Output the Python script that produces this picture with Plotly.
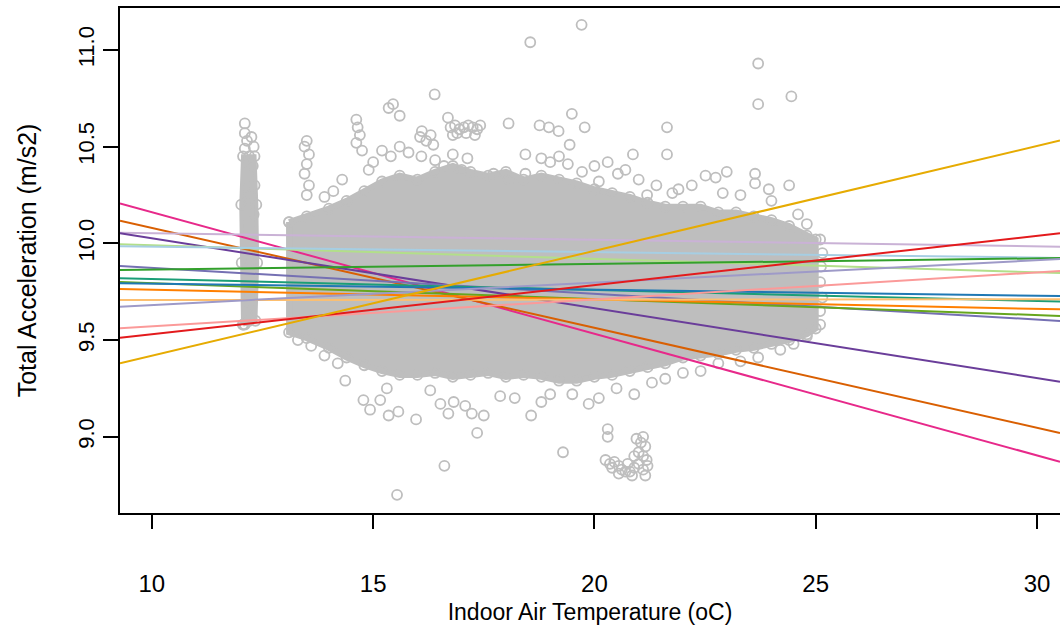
import plotly.graph_objects as go

# ---------------- data ----------------
# x range of the plotting region (regression lines span it)
x_limits = [9.28, 30.52]

# regression lines: value at left limit, value at right limit, colour
line_colors = ["#E7298A", "#D95F02", "#CAB2D6", "#6A3D9A", "#B2DF8A", "#A6CEE3",
               "#7570B3", "#33A02C", "#1B9E77", "#66A61E", "#1F78B4", "#FF7F00",
               "#FDBF6F", "#9E9AC8", "#FB9A99", "#E31A1C", "#E6AB02"]
line_y_left = [10.207, 10.117, 10.055, 10.052, 9.995, 9.985,
               9.883, 9.862, 9.820, 9.800, 9.794, 9.764,
               9.707, 9.673, 9.561, 9.512, 9.380]
line_y_right = [8.871, 9.020, 9.983, 9.285, 9.847, 9.925,
                9.599, 9.924, 9.699, 9.625, 9.728, 9.659,
                9.711, 9.919, 9.857, 10.052, 10.532]

# dense core of the scatter cloud (columns: temperature, upper and lower edge)
core_x = [13.1, 13.5, 14.0, 14.4, 14.8, 15.2, 15.6, 16.0, 16.4, 16.8, 17.2, 17.6,
          18.0, 18.4, 18.8, 19.2, 19.6, 20.0, 20.4, 20.8, 21.2, 21.6, 22.0, 22.4,
          22.8, 23.2, 23.6, 24.0, 24.4, 24.8, 25.0]
core_top = [10.11, 10.14, 10.18, 10.22, 10.27, 10.32, 10.35, 10.33, 10.37, 10.40, 10.37, 10.35,
            10.37, 10.33, 10.35, 10.33, 10.31, 10.28, 10.26, 10.24, 10.21, 10.19, 10.19, 10.19,
            10.16, 10.16, 10.14, 10.12, 10.09, 10.04, 10.02]
core_bot = [9.54, 9.51, 9.46, 9.41, 9.37, 9.34, 9.32, 9.32, 9.33, 9.31, 9.32, 9.33,
            9.31, 9.32, 9.31, 9.29, 9.29, 9.31, 9.32, 9.34, 9.36, 9.38, 9.41, 9.42,
            9.43, 9.45, 9.46, 9.48, 9.50, 9.53, 9.56]

# vertical strip of readings at ~12.2 degC
strip_x = [12.06, 12.34, 12.38, 12.36, 12.32, 12.06, 12.02, 12.03]
strip_y = [9.58, 9.60, 9.90, 10.20, 10.45, 10.45, 10.20, 9.90]

# individual readings outside the dense core
pts_x = [19.71, 18.55, 23.70, 23.70, 24.45, 16.39, 15.60, 15.45, 15.35, 16.69,
         14.62, 14.65, 14.70, 14.62, 14.75, 13.50, 13.45, 13.55, 13.50, 13.45, 13.55, 13.50,
         12.10, 12.10, 12.15, 12.10, 12.20,
         16.75, 16.85, 16.95, 17.05, 17.15, 17.25, 17.35, 17.42, 16.90, 17.10, 17.30, 16.80,
         16.06, 16.10, 16.20, 16.30, 16.36,
         18.06, 18.76, 18.97, 19.19, 19.49, 19.78, 21.64, 21.64, 20.87, 20.53, 19.44, 18.44,
         18.80, 19.00, 19.20, 19.40, 16.09, 16.40, 16.60, 16.80, 17.00, 17.13, 17.72, 18.06,
         18.44, 19.72, 20.10, 22.51, 22.74, 22.99, 23.63, 23.63, 23.94, 24.40, 21.76, 21.19,
         15.20, 15.40, 15.00, 15.60, 15.80, 14.90, 14.30, 14.10, 13.90,
         20.00, 20.30, 20.70, 21.00, 21.40, 21.90, 22.20, 22.90, 23.30, 24.00, 24.60, 24.80,
         25.10, 25.15,
         14.78, 15.16, 15.35, 15.57, 15.97, 15.54, 16.61, 17.35, 17.50, 17.23, 17.08, 16.70,
         16.52, 16.82, 18.57, 19.29, 19.87, 17.87, 19.00, 16.29, 15.31,
         20.30, 20.30,
         20.25, 20.35, 20.45, 20.55, 20.62, 20.70, 20.80, 20.90, 21.00, 21.10, 21.15, 21.05,
         20.95, 21.20, 21.15, 20.85, 20.55, 20.40, 21.10, 21.00, 20.90, 20.75, 21.18, 21.10,
         14.37, 14.93, 14.20, 13.90, 13.60, 13.30,
         18.20, 18.80, 19.50, 20.10, 20.50, 20.90, 21.30, 21.60, 22.00, 22.40, 22.80, 23.30,
         23.70, 24.20, 24.50, 24.80, 25.10, 25.10, 25.15, 25.10, 25.12,
         12.10, 12.20, 12.15,
         12.25, 12.30, 12.28, 12.32, 12.25, 12.30]
pts_y = [11.13, 11.04, 10.93, 10.72, 10.76, 10.77, 10.66, 10.72, 10.70, 10.65,
         10.64, 10.60, 10.56, 10.52, 10.48, 10.53, 10.50, 10.46, 10.41, 10.36, 10.30, 10.25,
         10.62, 10.57, 10.53, 10.49, 10.45,
         10.60, 10.61, 10.59, 10.60, 10.61, 10.60, 10.59, 10.61, 10.57, 10.57, 10.56, 10.56,
         10.55, 10.58, 10.53, 10.56, 10.51,
         10.62, 10.61, 10.60, 10.58, 10.67, 10.60, 10.60, 10.46, 10.46, 10.36, 10.51, 10.46,
         10.44, 10.42, 10.45, 10.41, 10.45, 10.43, 10.40, 10.46, 10.38, 10.44, 10.36, 10.33,
         10.36, 10.37, 10.32, 10.35, 10.34, 10.37, 10.36, 10.31, 10.28, 10.30, 10.26, 10.25,
         10.48, 10.45, 10.42, 10.50, 10.47, 10.38, 10.33, 10.27, 10.24,
         10.40, 10.42, 10.38, 10.33, 10.30, 10.28, 10.30, 10.26, 10.25, 10.22, 10.15, 10.10,
         10.02, 9.95,
         9.19, 9.19, 9.11, 9.13, 9.09, 8.70, 8.85, 9.02, 9.11, 9.12, 9.16, 9.12,
         9.17, 9.18, 9.11, 8.92, 9.17, 9.21, 9.22, 9.24, 9.25,
         9.04, 9.00,
         8.88, 8.86, 8.87, 8.85, 8.83, 8.82, 8.82, 8.84, 8.86, 8.90, 8.95, 8.97,
         8.99, 8.85, 8.80, 8.80, 8.81, 8.84, 9.00, 8.92, 8.90, 8.86, 8.88, 8.83,
         9.29, 9.14, 9.38, 9.42, 9.47, 9.50,
         9.20, 9.18, 9.22, 9.20, 9.25, 9.22, 9.28, 9.30, 9.33, 9.34, 9.38, 9.39,
         9.41, 9.45, 9.48, 9.52, 9.58, 9.65, 9.72, 9.80, 9.88,
         9.58, 9.60, 9.65,
         10.55, 10.50, 10.40, 10.30, 10.25, 10.15]

x_ticks = [10, 15, 20, 25, 30]
y_ticks = [9.0, 9.5, 10.0, 10.5, 11.0]
x_title = "Indoor Air Temperature (oC)"
y_title = "Total Acceleration (m/s2)"

# ---------------- figure ----------------
GRAY = "#BEBEBE"
FONT = "Liberation Sans, Arial, sans-serif"
fig = go.Figure()

marker_open = dict(symbol="circle-open", size=10, color=GRAY, line=dict(width=1.8, color=GRAY))

# dense core polygon (vertices drawn as circles too)
poly_x = core_x + core_x[::-1]
poly_y = core_top + core_bot[::-1]
fig.add_trace(go.Scatter(x=poly_x + [poly_x[0]], y=poly_y + [poly_y[0]], mode="lines+markers",
                         fill="toself", fillcolor=GRAY, line=dict(color=GRAY, width=6),
                         marker=marker_open, hoverinfo="skip", showlegend=False))
fig.add_trace(go.Scatter(x=strip_x + [strip_x[0]], y=strip_y + [strip_y[0]], mode="lines+markers",
                         fill="toself", fillcolor=GRAY, line=dict(color=GRAY, width=4),
                         marker=marker_open, hoverinfo="skip", showlegend=False))
fig.add_trace(go.Scatter(x=pts_x, y=pts_y, mode="markers", marker=marker_open,
                         showlegend=False))

for c, yl, yr in zip(line_colors, line_y_left, line_y_right):
    fig.add_trace(go.Scatter(x=x_limits, y=[yl, yr], mode="lines",
                             line=dict(color=c, width=2), showlegend=False))

fig.update_layout(
    width=1060, height=626,
    margin=dict(l=120, r=0, t=8, b=113),
    paper_bgcolor="white", plot_bgcolor="white",
    font=dict(family=FONT, color="black"),
    showlegend=False,
)
fig.update_xaxes(range=x_limits, tickvals=x_ticks, ticktext=[str(v) for v in x_ticks],
                 automargin=False,
                 showgrid=False, zeroline=False, showline=True, linecolor="black", linewidth=2,
                 mirror=True, ticks="outside", ticklen=14, tickwidth=2, tickcolor="black",
                 tickfont=dict(size=24, family=FONT), ticklabelstandoff=34,
                 title=dict(text=x_title, font=dict(size=23, family=FONT), standoff=8))
fig.update_yaxes(range=[8.606, 11.217], tickvals=y_ticks, ticktext=[f"{v:.1f}" for v in y_ticks],
                 automargin=False,
                 showgrid=False, zeroline=False, showline=True, linecolor="black", linewidth=2,
                 ticks="outside", ticklen=15, tickwidth=2, tickcolor="black", tickangle=-90,
                 tickfont=dict(size=22, family=FONT), ticklabelstandoff=0,
                 title=dict(text=y_title, font=dict(size=25, family=FONT), standoff=30))

fig.write_html("out.html", config={"displayModeBar": False},
               post_script="document.body.style.margin='0';document.body.style.overflow='hidden';")
